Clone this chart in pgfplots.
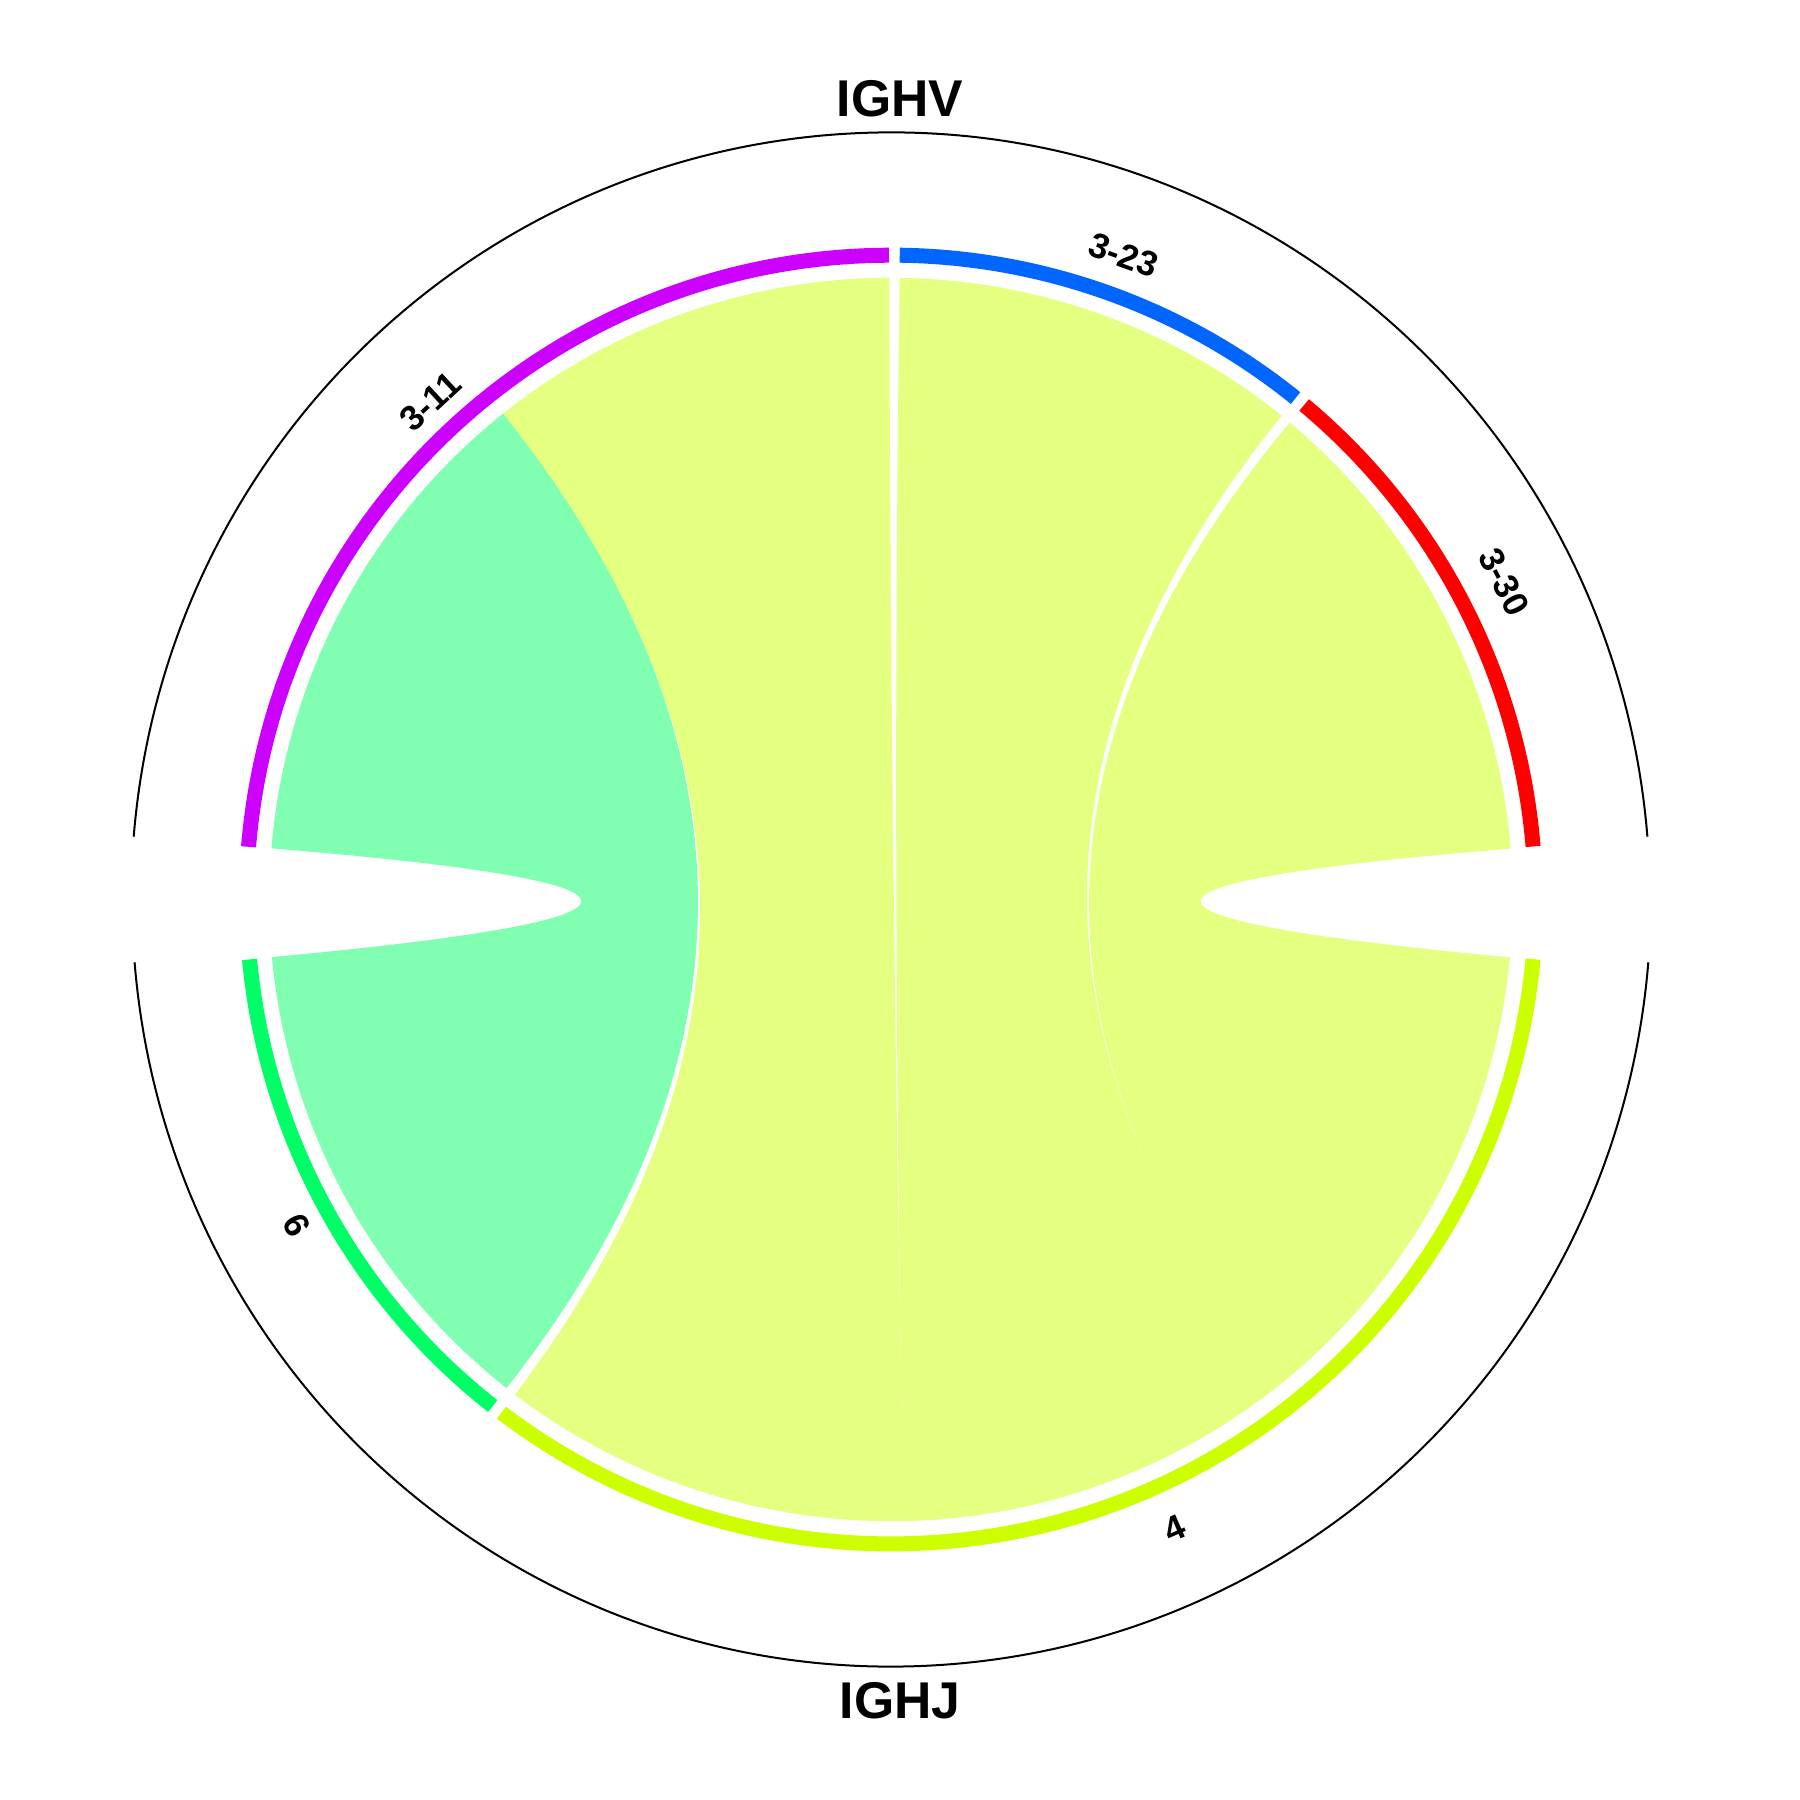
\documentclass[border=0pt]{standalone}
\usepackage{fontspec}
\setmainfont{Liberation Sans}
\usepackage{pgfplots}
\pgfplotsset{compat=1.18}
\definecolor{cpurple}{HTML}{CC00FF}
\definecolor{cblue}{HTML}{0066FF}
\definecolor{cred}{HTML}{FF0000}
\definecolor{cyg}{HTML}{CCFF00}
\definecolor{cgreen}{HTML}{00FF66}
\definecolor{ryg}{HTML}{E5FF80}
\definecolor{rgreen}{HTML}{80FFB3}
% point at angle #1 (deg), radius #2 (px), around the chart centre
\newcommand\pp[2]{({891+(#2)*cos(#1)},{900.5+(#2)*sin(#1)})}
% ribbon: arc a1->a2, curve a2->b1, arc b1->b2, curve b2->a1
\newcommand\ribbon[5]{%
  \fill[#1] \pp{#2}{621.7} arc[start angle=#2,end angle=#3,radius=6.217cm]
    .. controls \pp{#3}{207.23} and \pp{#4}{207.23} .. \pp{#4}{621.7}
    arc[start angle=#4,end angle=#5,radius=6.217cm]
    .. controls \pp{#5}{207.23} and \pp{#2}{207.23} .. \pp{#2}{621.7} -- cycle;}
\newcommand\band[3]{%
  \draw[#1,line width=0.15cm] \pp{#2}{644.3} arc[start angle=#2,end angle=#3,radius=6.443cm];}
\begin{document}
\begin{tikzpicture}
\begin{axis}[x=0.01cm,y=0.01cm,xmin=0,xmax=1800,ymin=0,ymax=1800,hide axis,clip=false]
\path (0,0) rectangle (1800,1800);
% outer track border
\draw[black,line width=0.02cm] ({891+759*cos(4.7)},{900.5+766.7*sin(4.7)})
  arc[start angle=4.7,end angle=175.3,x radius=7.59cm,y radius=7.667cm];
\draw[black,line width=0.02cm] ({891+759*cos(184.7)},{900.5+766.7*sin(184.7)})
  arc[start angle=184.7,end angle=355.3,x radius=7.59cm,y radius=7.667cm];
% sector bands
\band{cpurple}{90.18}{175.28}
\band{cblue}{51.1}{89.2}
\band{cred}{4.72}{50.1}
\band{cyg}{232.8}{354.66}
\band{cgreen}{185.34}{231.8}
% links (3-11->6: 6, 3-11->4: 5, 3-23->4: 5, 3-30->4: 6)
\ribbon{rgreen}{175.28}{128.6}{231.8}{185.34}
\ribbon{ryg}{128.6}{90.18}{271.2}{232.8}
\ribbon{ryg}{89.2}{51.1}{309.3}{271.2}
\ribbon{ryg}{50.1}{4.72}{354.66}{309.3}
% labels
\node[font=\fontsize{14.7}{16}\selectfont\bfseries,inner sep=0pt] at (900,1701.5) {IGHV};
\node[font=\fontsize{14.7}{16}\selectfont\bfseries,inner sep=0pt] at (900,99) {IGHJ};
\node[font=\fontsize{10}{12}\selectfont\bfseries,inner sep=0pt,rotate=42.8] at (430.5,1398.6) {3-11};
\node[font=\fontsize{10}{12}\selectfont\bfseries,inner sep=0pt,rotate=-19.85] at (1123.6,1544.8) {3-23};
\node[font=\fontsize{10}{12}\selectfont\bfseries,inner sep=0pt,rotate=-62.6] at (1504.5,1218.3) {3-30};
\node[font=\fontsize{10}{12}\selectfont\bfseries,inner sep=0pt,rotate=-61.4] at (296.7,575) {6};
\node[font=\fontsize{10}{12}\selectfont\bfseries,inner sep=0pt,rotate=23.7] at (1175,271.7) {4};
\end{axis}
\end{tikzpicture}
\end{document}
